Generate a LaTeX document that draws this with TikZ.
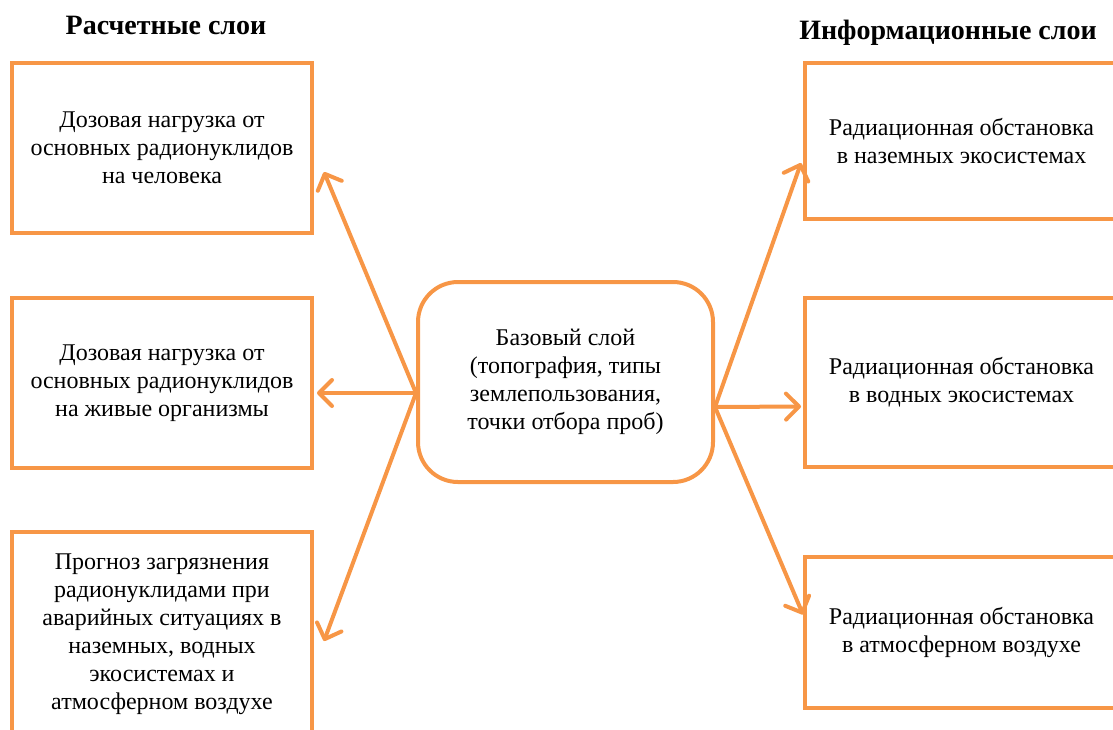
\documentclass[tikz,border=0pt]{standalone}
\usepackage{fontspec}
\setmainfont{Liberation Serif}
\usetikzlibrary{arrows.meta,calc}
\definecolor{layerorange}{HTML}{F79646}

\begin{document}
\begin{tikzpicture}[x=0.5pt,y=-0.5pt,
    layer/.style={draw=layerorange,line width=2pt,align=center,inner sep=0pt,
      font=\fontsize{12}{14}\selectfont},
    base/.style={layer,rounded corners=20pt},
    link/.style={draw=layerorange,line width=2pt,
      -{Straight Barb[length=6.5pt,width=13pt,line width=2pt,round]}},
    heading/.style={font=\fontsize{14}{16}\selectfont\bfseries}]
  \useasboundingbox (0,0) rectangle (1113,729);

  % headings
  \node[heading] (calc) at (166,25) {Расчетные слои};
  \node[heading] (info) at (948,33) {Информационные слои};

  % base layer
  \node[base,minimum width=147.5pt,minimum height=100pt] (base) at (565.5,382)
    {Базовый слой\\ (топография, типы\\ землепользования,\\ точки отбора проб)};

  % calculated layers
  \node[layer,minimum width=150pt,minimum height=85pt] (l1) at (162,148)
    {Дозовая нагрузка от\\ основных радионуклидов\\ на человека};
  \node[layer,minimum width=150pt,minimum height=85pt] (l2) at (162,383)
    {Дозовая нагрузка от\\ основных радионуклидов\\ на живые организмы};
  \node[layer,minimum width=150pt,minimum height=102pt] (l3) at (162,634)
    {Прогноз загрязнения\\ радионуклидами при\\ аварийных ситуациях в\\ наземных, водных\\ экосистемах и\\ атмосферном воздухе};

  % information layers
  \node[layer,minimum width=156.5pt,minimum height=78pt] (r1) at (961.5,141)
    {Радиационная обстановка\\ в наземных экосистемах};
  \node[layer,minimum width=156.5pt,minimum height=84.5pt] (r2) at (961.5,382.5)
    {Радиационная обстановка\\ в водных экосистемах};
  \node[layer,minimum width=156.5pt,minimum height=75.5pt] (r3) at (961.5,632.5)
    {Радиационная обстановка\\ в атмосферном воздухе};

  % links
  \coordinate (bl) at ($(base.west)+(0,11)$);
  \coordinate (br) at ($(base.east)+(0,25)$);
  \draw[link] (bl) -- ($(l1.east)+(10,24)$);
  \draw[link] (bl) -- ($(l2.east)+(3,10)$);
  \draw[link] (bl) -- ($(l3.east)+(10,7)$);
  \draw[link] (br) -- ($(r1.west)+(-2,22)$);
  \draw[link] (br) -- ($(r2.west)+(-2,24)$);
  \draw[link] (br) -- ($(r3.west)+(0,-18)$);
\end{tikzpicture}
\end{document}
